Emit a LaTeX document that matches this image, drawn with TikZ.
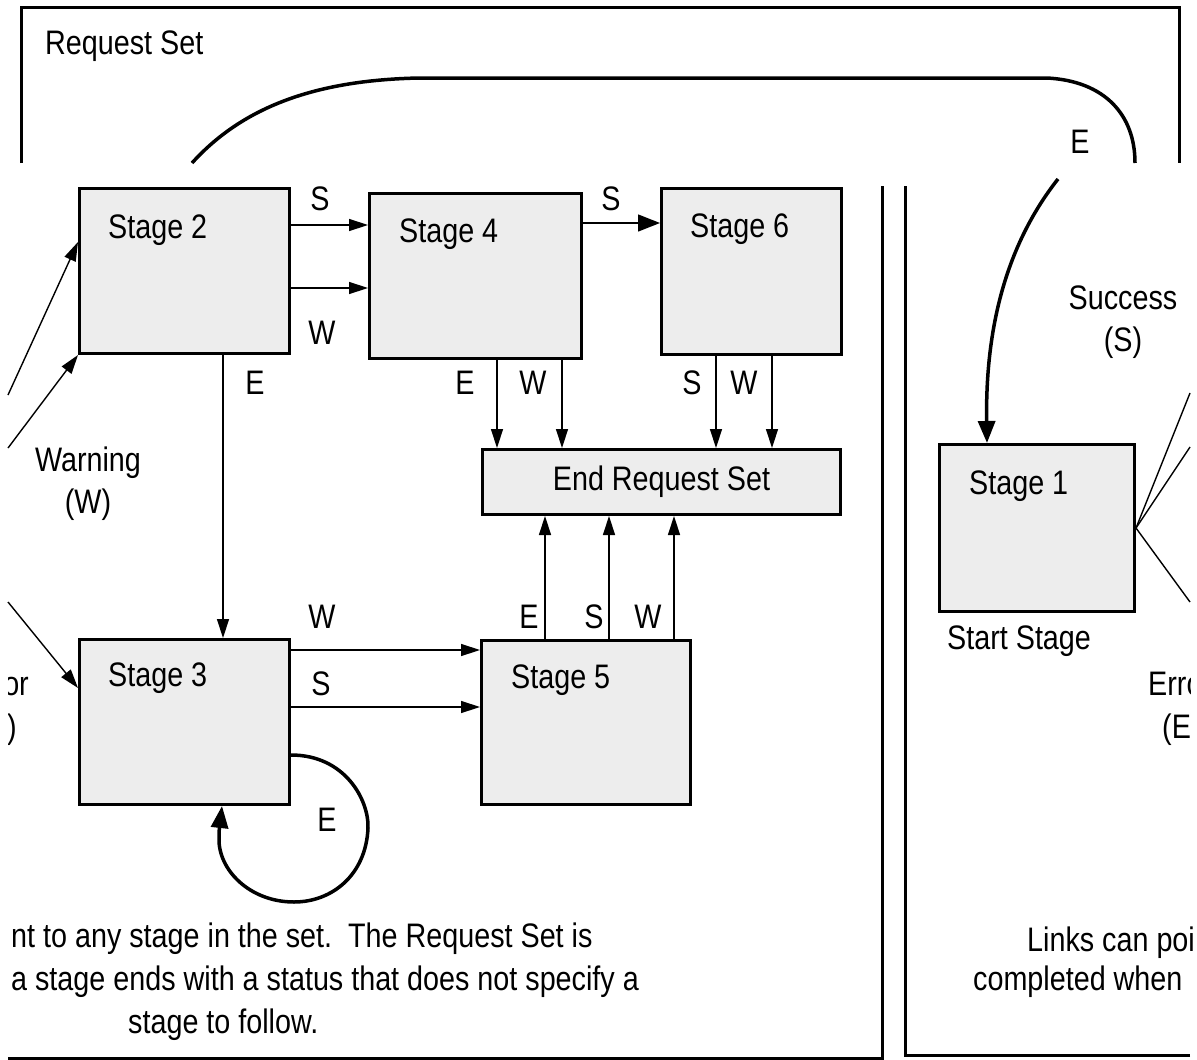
\documentclass[tikz,border=0pt]{standalone}
\usepackage{fontspec}
\setmainfont{Liberation Sans}[FakeStretch=0.845]
\usetikzlibrary{arrows.meta}
\definecolor{boxgray}{RGB}{237,237,237}
\frenchspacing
\begin{document}
\begin{tikzpicture}[x=1pt,y=-1pt,
  every node/.style={font=\fontsize{34}{40}\selectfont, inner sep=0pt},
  box/.style={draw, line width=3pt, fill=boxgray, anchor=north west},
  lbl/.style={anchor=base west},
  arr/.style={line width=1.4pt, -{Triangle[length=19pt,width=12pt]}},
  bigarr/.style={line width=1.4pt, -{Triangle[length=22pt,width=17pt]}},
  curvearr/.style={line width=3.5pt, -{Triangle[length=22pt,width=17pt]}},
  curveline/.style={line width=3.5pt},
  thinline/.style={line width=1.4pt},
  framestyle/.style={line width=3pt},
]
\useasboundingbox (0,0) rectangle (1197,1060);

% ---------- frame pieces ----------
\coordinate (fA) at (21,163); \coordinate (fB) at (21,7);
\coordinate (fC) at (1179,7); \coordinate (fD) at (1179,163);
\draw[framestyle] (fA) -- (fB) -- (fC) -- (fD);
\coordinate (lA) at (8,1058); \coordinate (lB) at (882,1058); \coordinate (lC) at (882,186);
\draw[framestyle] (lA) -- (lB) -- (lC);
\coordinate (rA) at (1190,1055); \coordinate (rB) at (905,1055); \coordinate (rC) at (905,186);
\draw[framestyle] (rA) -- (rB) -- (rC);

\node[lbl, anchor=west] (title) at (45,46) {Request Set};

% ---------- boxes ----------
\node[box, minimum width=210pt, minimum height=165pt] (s2) at (78,187) {};
\node[box, minimum width=212pt, minimum height=165pt] (s4) at (368,192) {};
\node[box, minimum width=180pt, minimum height=166pt] (s6) at (660,187) {};
\node[box, minimum width=358pt, minimum height=65pt] (end) at (481,448) {End Request Set};
\node[box, minimum width=210pt, minimum height=165pt] (s3) at (78,638) {};
\node[box, minimum width=209pt, minimum height=164pt] (s5) at (480,639) {};
\node[box, minimum width=195pt, minimum height=167pt] (s1) at (938,443) {};

\node[lbl] (t2) at (108,238) {Stage 2};
\node[lbl] (t4) at (399,242) {Stage 4};
\node[lbl] (t6) at (690,237) {Stage 6};
\node[lbl] (t3) at (108,686) {Stage 3};
\node[lbl] (t5) at (511,688) {Stage 5};
\node[lbl] (t1) at (969,494) {Stage 1};
\node[anchor=west] (tstart) at (947,641) {Start Stage};

% ---------- helper rows / columns ----------
\coordinate (y225) at (0,225); \coordinate (y288) at (0,288); \coordinate (y223) at (0,223);
\coordinate (y650) at (0,650); \coordinate (y707) at (0,707);
\coordinate (x223) at (223,0); \coordinate (x497) at (497,0); \coordinate (x562) at (562,0);
\coordinate (x716) at (716,0); \coordinate (x772) at (772,0);
\coordinate (x545) at (545,0); \coordinate (x609) at (609,0); \coordinate (x674) at (674,0);
\coordinate (x987) at (987,0);

% ---------- straight connectors ----------
\draw[arr] (s2.east |- y225) -- (s4.west |- y225);
\draw[arr] (s2.east |- y288) -- (s4.west |- y288);
\draw[bigarr] (s4.east |- y223) -- (s6.west |- y223);
\draw[arr] (s2.south -| x223) -- (s3.north -| x223);
\draw[arr] (s4.south -| x497) -- (end.north -| x497);
\draw[arr] (s4.south -| x562) -- (end.north -| x562);
\draw[arr] (s6.south -| x716) -- (end.north -| x716);
\draw[arr] (s6.south -| x772) -- (end.north -| x772);
\draw[arr] (s5.north -| x545) -- (end.south -| x545);
\draw[arr] (s5.north -| x609) -- (end.south -| x609);
\draw[arr] (s5.north -| x674) -- (end.south -| x674);
\draw[arr] (s3.east |- y650) -- (s5.west |- y650);
\draw[arr] (s3.east |- y707) -- (s5.west |- y707);

% links entering from the left edge
\coordinate (in1) at (8,395); \coordinate (in2) at (8,448); \coordinate (in3) at (8,602);
\coordinate (y242) at (0,242); \coordinate (y688) at (0,688);
\draw[arr] (in1) -- (s2.west |- y242);
\draw[arr] (in2) -- (s2.south west);
\draw[arr] (in3) -- (s3.west |- y688);

% links leaving Stage 1 to the right edge
\coordinate (out1) at (1190,393); \coordinate (out2) at (1190,447); \coordinate (out3) at (1190,602);
\draw[thinline] (s1.east) -- (out1);
\draw[thinline] (s1.east) -- (out2);
\draw[thinline] (s1.east) -- (out3);

% ---------- curved connectors ----------
\coordinate (eA) at (192,163); \coordinate (eB) at (420,78);
\coordinate (eC) at (1047,78); \coordinate (eD) at (1135,163);
\draw[curveline] (eA) .. controls (240,110) and (310,80) .. (eB) -- (eC)
   .. controls (1105,81) and (1135,115) .. (eD);
\coordinate (eE) at (1058,179);
\draw[curvearr] (eE) .. controls (1010,240) and (985,320) .. (s1.north -| x987);

\coordinate (y755) at (0,755); \coordinate (x222) at (222,0);
\draw[curvearr] (s3.east |- y755) .. controls (345,755) and (369,800) .. (368,828)
   .. controls (366,875) and (332,902) .. (294,902)
   .. controls (250,902) and (218,870) .. (219,838)
   .. controls (219,825) and (221,815) .. (s3.south -| x222);

% ---------- labels ----------
\node (lS1) at (320,199) {S};
\node (lW1) at (322,333) {W};
\node (lS2) at (611,199) {S};
\node (lE1) at (255,383) {E};
\node (lE2) at (465,383) {E};
\node (lW2) at (533,383) {W};
\node (lS3) at (692,383) {S};
\node (lW3) at (744,383) {W};
\node (lW4) at (322,617) {W};
\node (lS4) at (321,684) {S};
\node (lE3) at (529,617) {E};
\node (lS5) at (594,617) {S};
\node (lW5) at (648,617) {W};
\node (lE4) at (327,820) {E};
\node (lE5) at (1080,142) {E};
\node[align=center] (warn) at (88,484) {Warning\\[2pt](W)};
\node[align=center] (succ) at (1123,322) {Success\\[2pt](S)};

% partial "Error (E)" labels cut by the panel edges
\begin{scope}
  \clip (905,380) rectangle (1190,800);
  \node[lbl] (err1) at (1148,695) {Error};
  \node[lbl] (err2) at (1162,738) {(E)};
\end{scope}
\begin{scope}
  \clip (8,600) rectangle (100,800);
  \node[anchor=base east] (err3) at (29,695) {Error};
  \node[anchor=base east] (err4) at (17,738) {(E)};
\end{scope}

% ---------- caption text ----------
\node[lbl] (c1) at (11,947) {nt to any stage in the set.~ The Request Set is};
\node[lbl] (c2) at (11,990) {a stage ends with a status that does not specify a};
\node[lbl] (c3) at (128,1033) {stage to follow.};
\node[lbl] (c4) at (1027,951) {Links can poi};
\node[lbl] (c5) at (973,990) {completed when};
\end{tikzpicture}
\end{document}
